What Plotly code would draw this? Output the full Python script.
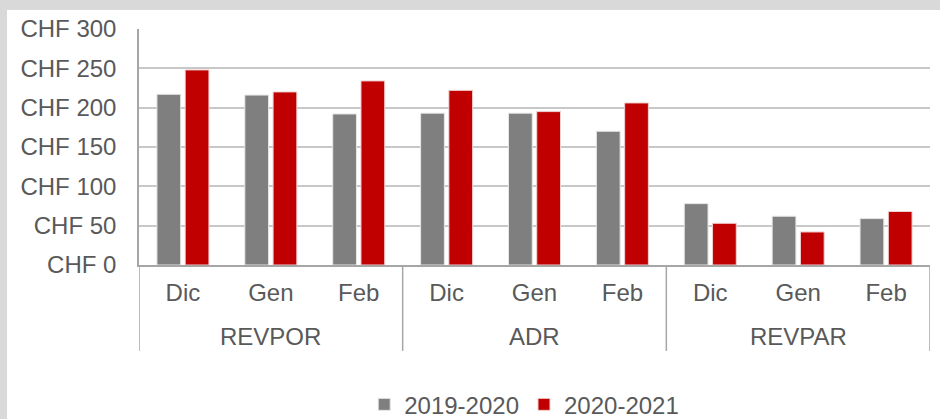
import plotly.graph_objects as go

GROUPS = ["REVPOR", "ADR", "REVPAR"]
MONTHS = ["Dic", "Gen", "Feb"]
SEASON_A = "2019-2020"
SEASON_B = "2020-2021"
# values per group, in month order Dic, Gen, Feb
VALUES_A = [217, 216, 192, 193, 193, 170, 78, 62, 59]
VALUES_B = [248, 220, 234, 222, 195, 206, 53, 42, 68]
Y_TICKS = [0, 50, 100, 150, 200, 250, 300]

GREY = "#7f7f7f"
RED = "#c00000"
TEXT = "#595959"
AXIS = "#a6a6a6"
FONT = "Liberation Sans, Arial, sans-serif"

n_month = len(MONTHS)
xpos = list(range(len(GROUPS) * n_month))
month_labels = [m for _ in GROUPS for m in MONTHS]

fig = go.Figure()
fig.add_trace(go.Bar(x=xpos, y=VALUES_A, name=SEASON_A,
                     marker=dict(color=GREY, line=dict(color="#e6e6e6", width=1))))
fig.add_trace(go.Bar(x=xpos, y=VALUES_B, name=SEASON_B,
                     marker=dict(color=RED, line=dict(color="#f0d0d0", width=1))))

# grey frame with a white card inside
fig.add_shape(type="rect", xref="paper", yref="paper",
              x0=-0.1669, x1=1.02, y0=-0.7, y1=1.0805,
              fillcolor="white", line_width=0, layer="below")

# group labels and dividers under the month labels
for i, g in enumerate(GROUPS):
    fig.add_annotation(x=i * n_month + (n_month - 1) / 2, y=-0.305, xref="x", yref="paper",
                       text=g, showarrow=False, yanchor="middle",
                       font=dict(size=24, color=TEXT))
for i in range(len(GROUPS) + 1):
    b = i * n_month - 0.5
    fig.add_shape(type="line", xref="x", yref="paper", x0=b, x1=b, y0=0, y1=-0.364,
                  line=dict(color=AXIS, width=1.5))

fig.update_layout(
    width=940, height=419,
    margin=dict(l=139, r=10, t=29, b=154),
    paper_bgcolor="#d9d9d9",
    plot_bgcolor="white",
    font=dict(family=FONT, size=24, color=TEXT),
    barmode="group",
    bargap=0.357,
    bargroupgap=0.16,
    showlegend=True,
    legend=dict(orientation="h", x=0.487, xanchor="center",
                yref="container", y=0.034, yanchor="middle",
                font=dict(size=24, color=TEXT), itemwidth=30, traceorder="normal",
                bgcolor="rgba(0,0,0,0)"),
)
fig.update_yaxes(range=[0, 300], tickvals=Y_TICKS, ticktext=[f"CHF {v}" for v in Y_TICKS],
                 showgrid=True, gridcolor="#c8c8c8", gridwidth=1.5,
                 zeroline=False, showline=True, linecolor=AXIS, linewidth=1.5,
                 ticklabelstandoff=16, tickfont=dict(size=24, color=TEXT))
fig.update_xaxes(range=[-0.5, len(xpos) - 0.5], tickvals=xpos, ticktext=month_labels,
                 showline=True, linecolor=AXIS, linewidth=1.5, showgrid=False,
                 zeroline=False, ticks="", ticklabelstandoff=5,
                 tickfont=dict(size=24, color=TEXT))

fig.write_html("out.html", config={"displayModeBar": False},
               post_script="document.body.style.margin='0';")
